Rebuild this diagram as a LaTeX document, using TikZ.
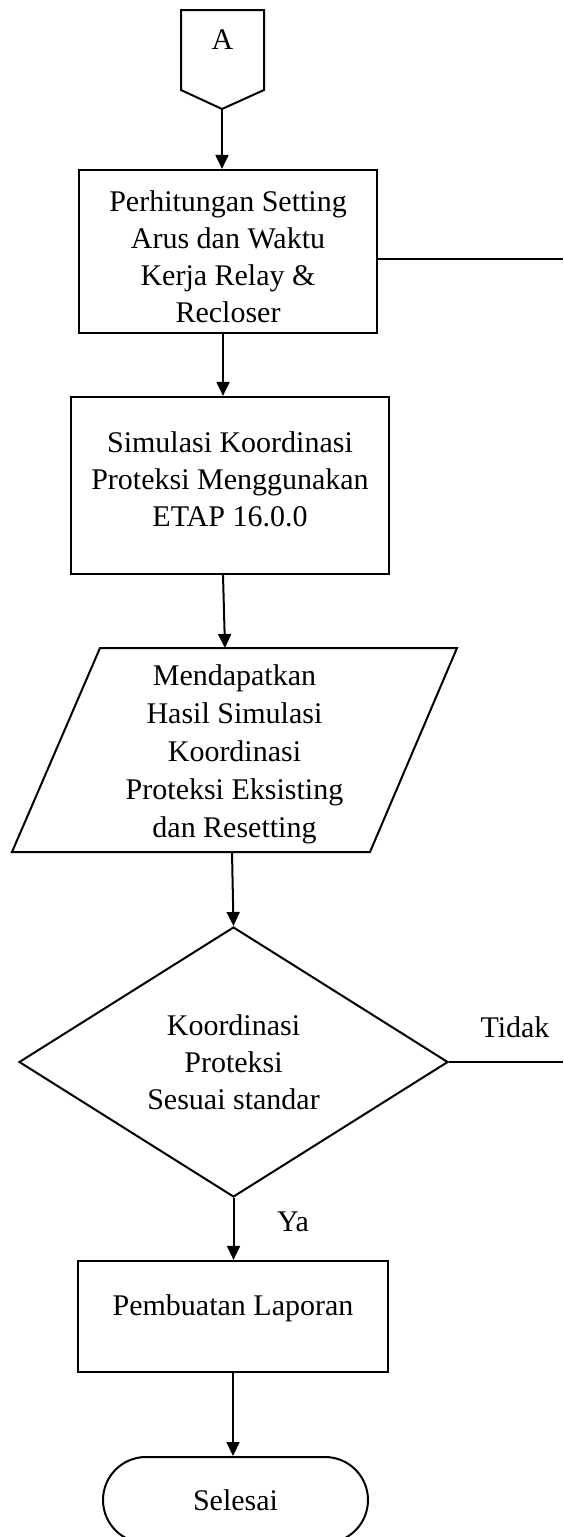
\documentclass[tikz,border=0pt]{standalone}
\usepackage{fontspec}
\setmainfont{Liberation Serif}
\usetikzlibrary{arrows.meta,shapes.misc,shapes.geometric,calc}
\begin{document}
\begin{tikzpicture}[x=1pt,y=-1pt,
  every node/.style={font=\fontsize{30}{37}\selectfont, align=center, inner sep=0pt},
  procbox/.style={draw, line width=2.2pt},
  arr/.style={line width=2pt, -{Triangle[length=14pt,width=13pt]}},
  thinline/.style={line width=1.4pt}]
\useasboundingbox (0,0) rectangle (563,1537);

% off-page connector A
\draw[line width=2pt, line join=miter] (181,10) -- (264,10) -- (264,90) -- (222,109) -- (181,90) -- cycle;
\node (A) at (222.5,40) {A};
\coordinate (Atip) at (222,109);

% box 1
\node[procbox, minimum width=298pt, minimum height=163pt] (b1) at (228,251.5) {};
\node (b1t) at (228,257) {Perhitungan Setting\\Arus dan Waktu\\Kerja Relay \&\\Recloser};
\coordinate (r1) at (563,259);
\draw[thinline] (b1.east |- r1) -- (r1);

% box 2
\node[procbox, minimum width=318pt, minimum height=177pt] (b2) at (230,485.5) {};
\node (b2t) at (230,479) {Simulasi Koordinasi\\Proteksi Menggunakan\\ETAP 16.0.0};

% parallelogram
\draw[line width=2pt, line join=miter] (100,648) -- (457,648) -- (370,852) -- (12,852) -- cycle;
\node[font=\fontsize{30}{38}\selectfont] (p) at (234.5,754) {Mendapatkan\\Hasil Simulasi\\Koordinasi\\Proteksi Eksisting\\dan Resetting};
\coordinate (ptop) at (225,648);
\coordinate (pbot) at (232,852);

% decision
\node[draw, diamond, line width=2pt, minimum width=429pt, minimum height=270pt] (d) at (233.5,1062)
  {Koordinasi\\Proteksi\\Sesuai standar};
\coordinate (r2) at (563,1062);
\draw[thinline] (d.east) -- (r2);
\node (tidak) at (515,1027) {Tidak};
\node (ya) at (293,1222) {Ya};

% box 3
\node[procbox, minimum width=310pt, minimum height=111pt] (b3) at (233,1316.5) {};
\node (b3t) at (233,1308) {Pembuatan Laporan};

% terminal
\node[draw, rounded rectangle, line width=2pt, minimum width=265pt, minimum height=86pt] (end) at (235.5,1500) {Selesai};

% connectors
\coordinate (c1) at ($(b1.south)+(-5,0)$);
\coordinate (c2) at ($(b2.south)+(-7,0)$);
\draw[arr] (Atip) -- (Atip |- b1.north);
\draw[arr] (c1) -- (c1 |- b2.north);
\draw[arr] (c2) -- (ptop);
\draw[arr] (pbot) -- (d.north);
\draw[arr] (d.south) -- (d.south |- b3.north);
\draw[arr] (b3.south) -- (b3.south |- end.north);
\end{tikzpicture}
\end{document}
